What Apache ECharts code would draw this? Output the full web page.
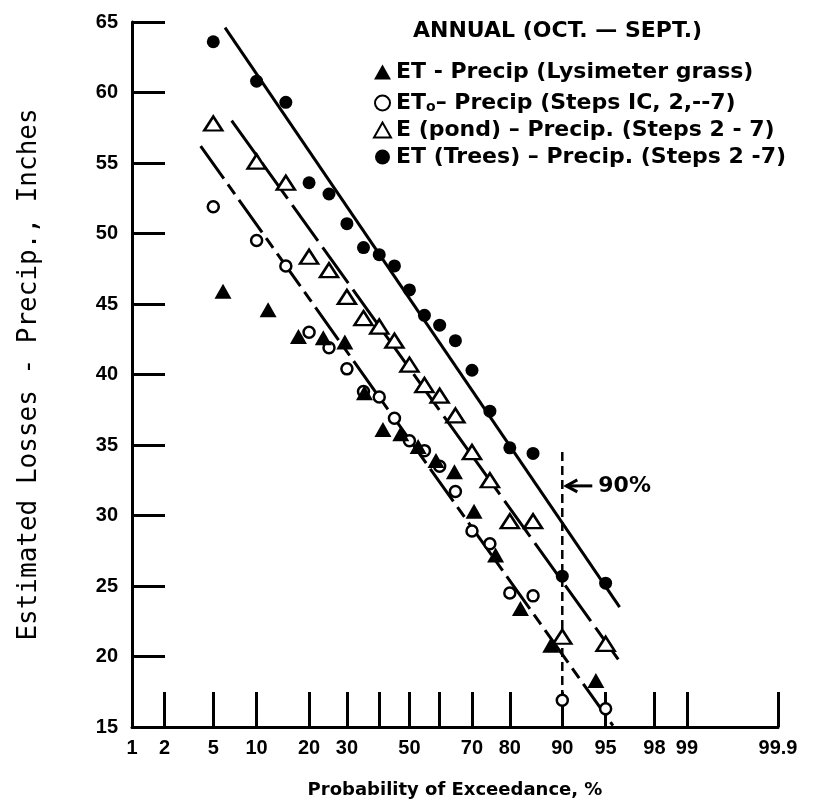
<!DOCTYPE html>
<html><head><meta charset="utf-8">
<script src="https://cdn.jsdelivr.net/npm/echarts@6/dist/echarts.min.js"></script>
<style>html,body{margin:0;padding:0;background:#fff}#c{width:821px;height:801px}</style>
</head><body><div id="c"></div>
<script>
// ---- data (probability of exceedance in %, values in inches) ----
const probTicks = [2, 5, 10, 20, 30, 40, 50, 60, 70, 80, 90, 95, 98, 99, 99.9];
const probLabels = [1, 2, 5, 10, 20, 30, 50, 70, 80, 90, 95, 98, 99, 99.9];
const plotPos19 = [5, 10, 15, 20, 25, 30, 35, 40, 45, 50, 55, 60, 65, 70, 75, 80, 85, 90, 95];
const plotPos16 = [5.9, 11.8, 17.6, 23.5, 29.4, 35.3, 41.2, 47.1, 52.9, 58.8, 64.7, 70.6, 76.5, 82.4, 88.2, 94.1];
const lysimeter = [45.9, 44.6, 42.7, 42.6, 42.3, 38.7, 36.1, 35.8, 34.9, 33.9, 33.1, 30.3, 27.2, 23.4, 20.8, 18.3];
const eto = [51.9, 49.5, 47.7, 43.0, 41.9, 40.4, 38.8, 38.4, 36.9, 35.3, 34.6, 33.5, 31.7, 28.9, 28.0, 24.5, 24.3, 16.9, 16.3];
const pond = [57.8, 55.1, 53.6, 48.35, 47.4, 45.5, 44.0, 43.4, 42.4, 40.7, 39.25, 38.5, 37.1, 34.5, 32.5, 29.6, 29.6, 21.4, 20.9];
const trees = [63.6, 60.8, 59.3, 53.6, 52.8, 50.7, 49.0, 48.5, 47.7, 46.0, 44.2, 43.5, 42.4, 40.3, 37.4, 34.8, 34.4, 25.7, 25.2];
const treesFitProb = [6.1, 96.1], treesFitVal = [64.6, 23.5];
const pondFitProb = [6.8, 96.0], pondFitVal = [58.0, 19.8];
const etoFitProb = [4.0, 95.6], etoFitVal = [56.2, 15.1];
const mark90Prob = 90, mark90Range = [34.5, 17.4];
const arrowVal = 32.1;
const names = ['ET - Precip (Lysimeter grass)', 'ETo', 'E (pond) - Precip.', 'ET (Trees) - Precip.'];
const legendText = {
  'ET - Precip (Lysimeter grass)': 'ET - Precip (Lysimeter grass)',
  'ETo': 'ET{sub|o}– Precip (Steps IC, 2,--7)',
  'E (pond) - Precip.': 'E (pond) – Precip. (Steps 2 - 7)',
  'ET (Trees) - Precip.': 'ET (Trees) – Precip. (Steps 2 -7)'
};

// inverse normal CDF (probability-paper scale)
function probit(pct) {
  const p = pct / 100;
  const a = [-3.969683028665376e+01, 2.209460984245205e+02, -2.759285104469687e+02, 1.383577518672690e+02, -3.066479806614716e+01, 2.506628277459239e+00];
  const b = [-5.447609879822406e+01, 1.615858368580409e+02, -1.556989798598866e+02, 6.680131188771972e+01, -1.328068155288572e+01];
  const c = [-7.784894002430293e-03, -3.223964580411365e-01, -2.400758277161838e+00, -2.549732539343734e+00, 4.374664141464968e+00, 2.938163982698783e+00];
  const d = [7.784695709041462e-03, 3.224671290700398e-01, 2.445134137142996e+00, 3.754408661907416e+00];
  const pl = 0.02425, ph = 1 - pl;
  let q, r;
  if (p < pl) { q = Math.sqrt(-2 * Math.log(p)); return (((((c[0]*q+c[1])*q+c[2])*q+c[3])*q+c[4])*q+c[5]) / ((((d[0]*q+d[1])*q+d[2])*q+d[3])*q+1); }
  if (p <= ph) { q = p - 0.5; r = q*q; return (((((a[0]*r+a[1])*r+a[2])*r+a[3])*r+a[4])*r+a[5])*q / (((((b[0]*r+b[1])*r+b[2])*r+b[3])*r+b[4])*r+1); }
  q = Math.sqrt(-2 * Math.log(1 - p)); return -(((((c[0]*q+c[1])*q+c[2])*q+c[3])*q+c[4])*q+c[5]) / ((((d[0]*q+d[1])*q+d[2])*q+d[3])*q+1);
}
const pts = (probs, vals) => probs.map((p, i) => [probit(p), vals[i]]);
function labelFor(v) {
  let best = probLabels[0], bd = Infinity;
  probLabels.forEach(p => { const dd = Math.abs(probit(p) - v); if (dd < bd) { bd = dd; best = p; } });
  return String(best);
}

const numFont = { fontFamily: 'Liberation Sans, Arial, sans-serif', fontWeight: 'bold', fontSize: 20, color: '#000' };
const boldFont = 'DejaVu Sans, sans-serif';
const chart = echarts.init(document.getElementById('c'), null, { renderer: 'canvas' });
const lineBase = { type: 'line', symbol: 'none', silent: true, z: 2, animation: false };
chart.setOption({
  animation: false,
  backgroundColor: '#fff',
  title: { text: 'ANNUAL (OCT. — SEPT.)', left: 413, top: 20, padding: 0,
    textStyle: { fontFamily: boldFont, fontWeight: 'bold', fontSize: 22, color: '#000' } },
  legend: {
    orient: 'vertical', left: 373, top: 61, padding: 0, itemGap: 5,
    itemWidth: 17, itemHeight: 15,
    data: names,
    formatter: n => legendText[n],
    textStyle: { fontFamily: boldFont, fontWeight: 'bold', fontSize: 22, color: '#000', lineHeight: 22,
      rich: { sub: { fontFamily: boldFont, fontWeight: 'bold', fontSize: 14, verticalAlign: 'bottom', lineHeight: 22, padding: [12, 0, 0, 0] } } }
  },
  grid: { left: 132, right: 43, top: 22, bottom: 74, containLabel: false, outerBoundsMode: 'none' },
  xAxis: {
    type: 'value', min: probit(1), max: probit(99.9),
    axisLine: { onZero: false, lineStyle: { color: '#000', width: 3 } },
    axisTick: { inside: true, length: 35, customValues: probTicks.map(probit), lineStyle: { color: '#000', width: 3 } },
    axisLabel: Object.assign({ customValues: probLabels.map(probit), formatter: labelFor, margin: 11 }, numFont),
    splitLine: { show: false },
    name: 'Probability of Exceedance, %', nameLocation: 'middle', nameGap: 54,
    nameTextStyle: { fontFamily: boldFont, fontWeight: 'bold', fontSize: 18, color: '#000' }
  },
  yAxis: {
    type: 'value', min: 15, max: 65, interval: 5,
    axisLine: { show: true, onZero: false, lineStyle: { color: '#000', width: 3 } },
    axisTick: { show: true, inside: true, length: 33, lineStyle: { color: '#000', width: 3 } },
    axisLabel: Object.assign({ margin: 14 }, numFont),
    splitLine: { show: false },
    name: 'Estimated Losses - Precip., Inches', nameLocation: 'middle', nameGap: 90,
    nameTextStyle: { fontFamily: 'DejaVu Sans Mono, monospace', fontSize: 26, color: '#000' }
  },
  series: [
    Object.assign({}, lineBase, { data: pts(treesFitProb, treesFitVal), lineStyle: { color: '#000', width: 3, type: 'solid' } }),
    Object.assign({}, lineBase, { data: pts(pondFitProb, pondFitVal), lineStyle: { color: '#000', width: 3, type: [44, 8] } }),
    Object.assign({}, lineBase, { data: pts(etoFitProb, etoFitVal), lineStyle: { color: '#000', width: 3, type: [40, 7, 12, 7] } }),
    Object.assign({}, lineBase, { data: [[probit(mark90Prob), mark90Range[0]], [probit(mark90Prob), mark90Range[1]]], lineStyle: { color: '#000', width: 2.5, type: [9, 5] } }),
    { name: names[1], type: 'scatter', z: 3, symbol: 'circle', symbolSize: 11, data: pts(plotPos19, eto),
      itemStyle: { color: '#fff', borderColor: '#000', borderWidth: 2.5, opacity: 1 } },
    { name: names[2], type: 'scatter', z: 3, symbol: 'triangle', symbolSize: [18, 14], data: pts(plotPos19, pond),
      itemStyle: { color: '#fff', borderColor: '#000', borderWidth: 2.5, opacity: 1 } },
    { name: names[0], type: 'scatter', z: 4, symbol: 'triangle', symbolSize: [17, 15], data: pts(plotPos16, lysimeter),
      itemStyle: { color: '#000', opacity: 1 } },
    { name: names[3], type: 'scatter', z: 4, symbol: 'circle', symbolSize: 13, data: pts(plotPos19, trees),
      itemStyle: { color: '#000', opacity: 1 } }
  ]
});
const ap = chart.convertToPixel({ gridIndex: 0 }, [probit(mark90Prob), arrowVal]);
chart.setOption({
  graphic: [
    { type: 'line', shape: { x1: ap[0] + 4, y1: ap[1], x2: ap[0] + 30, y2: ap[1] }, style: { stroke: '#000', lineWidth: 3 } },
    { type: 'polyline', shape: { points: [[ap[0] + 15, ap[1] - 6], [ap[0] + 4, ap[1]], [ap[0] + 15, ap[1] + 6]] }, style: { stroke: '#000', lineWidth: 3, fill: null } },
    { type: 'text', x: ap[0] + 36, y: ap[1], style: { text: '90%', fontFamily: boldFont, fontWeight: 'bold', fontSize: 22, fill: '#000', verticalAlign: 'middle' } }
  ]
});
</script></body></html>
